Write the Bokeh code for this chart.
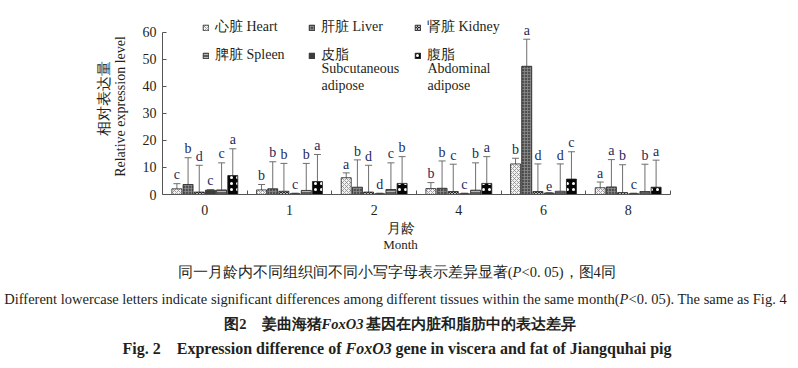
import math
from bokeh.plotting import figure
from bokeh.models import (ColumnDataSource, Range1d, FixedTicker, Legend, LegendItem,
                          Whisker, TeeHead, Label)
from bokeh.core.properties import value
from bokeh.embed import file_html
from bokeh.resources import INLINE

# ---------------- data ----------------
months = ["0", "1", "2", "4", "6", "8"]
y_ticks = [0, 10, 20, 30, 40, 50, 60]

heart = [2.1, 1.7, 6.2, 2.2, 11.3, 2.5]
heart_err = [1.9, 2.0, 1.8, 2.2, 2.1, 2.1]
heart_sig = ["c", "b", "a", "b", "b", "a"]

liver = [3.7, 2.1, 2.7, 2.3, 47.4, 2.8]
liver_err = [9.9, 10.0, 10.1, 10.1, 10.0, 10.1]
liver_sig = ["b", "b", "b", "b", "a", "a"]

kidney = [0.9, 1.2, 0.9, 1.1, 1.1, 0.7]
kidney_err = [9.9, 10.3, 9.9, 10.1, 10.2, 10.3]
kidney_sig = ["d", "b", "d", "c", "d", "b"]

subcut = [1.6, 0.3, 0.3, 0.3, 0.5, 0.3]
subcut_err = [0.2, 0.2, 0.2, 0.2, 0.2, 0.2]
subcut_sig = ["c", "c", "d", "c", "e", "c"]

spleen = [1.7, 1.5, 1.85, 1.6, 1.2, 1.1]
spleen_err = [10.0, 10.0, 9.85, 10.1, 10.1, 10.1]
spleen_sig = ["c", "b", "c", "b", "d", "b"]

abdominal = [7.0, 4.8, 4.1, 4.1, 5.7, 2.7]
abdominal_err = [9.9, 10.0, 9.9, 9.9, 10.1, 10.0]
abdominal_sig = ["a", "a", "b", "a", "c", "a"]

legend_heart = "心脏 Heart"
legend_liver = "肝脏 Liver"
legend_kidney = "肾脏 Kidney"
legend_spleen = "脾脏 Spleen"
legend_subcut = "皮脂"
legend_abd = "腹脂"

y_title_cn = "相对表达量"
y_title_en = "Relative expression level"

# ---------------- layout constants (page pixels) ----------------
W, H = 798, 368
AX_LEFT, AX_RIGHT = 162, 670      # x-axis extent (6 month groups)
AX_ZERO, AX_TOP = 194, 31.7       # y = 0 and y = 60
PX_X = (AX_RIGHT - AX_LEFT) / len(months)
PPU = (AX_ZERO - AX_TOP) / 60.0

def X(px):
    return (px - AX_LEFT) / PX_X

def Y(py):
    return (AX_ZERO - py) / PPU

SERIF = "Liberation Serif"
TXT = "#231f20"

p = figure(width=W, height=H, output_backend="svg", toolbar_location=None,
           x_range=Range1d(X(0), X(W)), y_range=Range1d(Y(H), Y(0)),
           min_border=0)
p.xgrid.visible = False
p.ygrid.visible = False
p.outline_line_color = None
p.background_fill_color = "white"
p.border_fill_color = "white"

series = [
    ("Heart", heart, heart_err, heart_sig, dict(fill_color="#f2f2f2", hatch_pattern="diagonal_cross", hatch_color="#8a8a8a", hatch_scale=4, hatch_weight=0.8)),
    ("Liver", liver, liver_err, liver_sig, dict(fill_color="#505050", hatch_pattern="cross", hatch_color="#8c8c8c", hatch_scale=3, hatch_weight=0.8)),
    ("Kidney", kidney, kidney_err, kidney_sig, dict(fill_color="#2a2a2a", hatch_pattern="diagonal_cross", hatch_color="#e0e0e0", hatch_scale=3, hatch_weight=0.8)),
    ("Subcutaneous", subcut, subcut_err, subcut_sig, dict(fill_color="#3c3c3c", hatch_pattern=None)),
    ("Spleen", spleen, spleen_err, spleen_sig, dict(fill_color="#5c5c5c", hatch_pattern="horizontal_line", hatch_color="#cfcfcf", hatch_scale=3, hatch_weight=0.8)),
    ("Abdominal", abdominal, abdominal_err, abdominal_sig, dict(fill_color="#050505", hatch_pattern="dot", hatch_color="#ffffff", hatch_scale=6, hatch_weight=0.45)),
]

step = 0.132
bw = 0.118
renderers = {}
for j, (name, vals, errs, sigs, style) in enumerate(series):
    xs = [i + 0.5 + (j - 2.5) * step for i in range(len(months))]
    ups = [v + e for v, e in zip(vals, errs)]
    src = ColumnDataSource(dict(x=xs, top=vals, upper=ups, lower=vals, sig=sigs,
                                ty=[u + 0.5 for u in ups]))
    kw = {k: v for k, v in style.items() if v is not None}
    r = p.vbar(x="x", top="top", bottom=0, width=bw, source=src,
               line_color="#222222", line_width=0.8, **kw)
    renderers[name] = r
    w = Whisker(base="x", lower="lower", upper="upper", source=src, dimension="height",
                line_color="#6e6e6e", line_width=1,
                upper_head=TeeHead(size=7, line_color="#6e6e6e", line_width=1),
                lower_head=None)
    p.add_layout(w)
    p.text(x="x", y="ty", text="sig", source=src, text_align="center",
           text_baseline="bottom", text_font=value(SERIF), text_font_size="14px",
           text_color="#24295a")

# axes placed at data locations inside the frame
p.xaxis.fixed_location = 0
p.yaxis.fixed_location = 0
p.xaxis.bounds = (0, len(months))
p.yaxis.bounds = (0, 60)
p.xaxis.ticker = FixedTicker(ticks=[i + 0.5 for i in range(len(months))],
                             minor_ticks=[i + 1 for i in range(len(months))])
p.xaxis.major_label_overrides = {i + 0.5: m for i, m in enumerate(months)}
p.xaxis.minor_tick_in = 4
p.xaxis.minor_tick_out = 0
p.xaxis.minor_tick_line_color = "#555555"
p.xaxis.major_label_standoff = 4
p.yaxis.ticker = FixedTicker(ticks=y_ticks)
p.yaxis.major_tick_in = 4
p.yaxis.major_tick_out = 0
p.yaxis.minor_tick_line_color = None
p.yaxis.major_label_standoff = 6
p.xaxis.major_tick_line_color = None
p.yaxis.major_tick_line_color = "#555555"
for ax in (p.xaxis, p.yaxis):
    ax.axis_line_color = "#555555"
    ax.major_label_text_font = SERIF
    ax.major_label_text_font_size = "14px"
    ax.major_label_text_color = TXT

# legends (two rows)
leg_kw = dict(orientation="horizontal", padding=0, margin=0, spacing=5,
              glyph_width=7, glyph_height=7, label_standoff=6, label_width=88,
              label_text_font=SERIF, label_text_font_size="14px", label_text_color=TXT,
              border_line_color=None, background_fill_alpha=0, label_height=16)
leg1 = Legend(items=[LegendItem(label=legend_heart, renderers=[renderers["Heart"]]),
                     LegendItem(label=legend_liver, renderers=[renderers["Liver"]]),
                     LegendItem(label=legend_kidney, renderers=[renderers["Kidney"]])],
              location=(202, H - 36), **leg_kw)
leg2 = Legend(items=[LegendItem(label=legend_spleen, renderers=[renderers["Spleen"]]),
                     LegendItem(label=legend_subcut, renderers=[renderers["Subcutaneous"]]),
                     LegendItem(label=legend_abd, renderers=[renderers["Abdominal"]])],
              location=(202, H - 64), **leg_kw)
p.add_layout(leg1)
p.add_layout(leg2)

def lab(text, px, py, size="14px", align="left", style="normal", angle=0.0, color=TXT, font=SERIF):
    l = Label(x=X(px), y=Y(py), text=text, text_font=font, text_font_size=size,
              text_align=align, text_baseline="middle", text_font_style=style,
              text_color=color, angle=angle)
    p.add_layout(l)

col2 = 202 + 106 + 13
col3 = 202 + 212 + 13
lab("Subcutaneous", col2, 68)
lab("adipose", col2, 85)
lab("Abdominal", col3, 68)
lab("adipose", col3, 85)

# axis titles (rotated, drawn as text glyphs)
ytitle_src = ColumnDataSource(dict(x=[X(103), X(120)], y=[Y(98), Y(106)],
                                   t=[y_title_cn, y_title_en],
                                   fs=["15px", "14px"]))
p.text(x="x", y="y", text="t", source=ytitle_src, angle=math.pi / 2,
       text_align="center", text_baseline="middle", text_font=value(SERIF),
       text_font_size="fs", text_color=TXT)
lab("月龄", 400, 228, align="center")
lab("Month", 400, 244, size="13px", align="center")

# captions
lab("同一月龄内不同组织间不同小写字母表示差异显著(", 512, 271, size="14.5px", align="right")
lab("P", 512, 271, size="14.5px", style="italic")
lab("<0. 05)，图4同", 521, 271, size="14.5px")
lab("Different lowercase letters indicate significant differences among different tissues within the same month(",
    619, 298, size="14.5px", align="right")
lab("P", 619, 298, size="14.5px", style="italic")
lab("<0. 05). The same as Fig. 4", 628, 298, size="14.5px")
lab("图2　姜曲海猪", 321, 323, size="14.5px", align="right", style="bold")
lab("FoxO3", 321, 323, size="14.5px", style="bold italic")
lab("基因在内脏和脂肪中的表达差异", 365, 323, size="14.5px", style="bold")
lab("Fig. 2　Expression difference of ", 345, 348, size="16px", align="right", style="bold")
lab("FoxO3", 345, 348, size="16px", style="bold italic")
lab("gene in viscera and fat of Jiangquhai pig", 395, 348, size="16px", style="bold")

open("out.html", "w").write(file_html(p, INLINE))
